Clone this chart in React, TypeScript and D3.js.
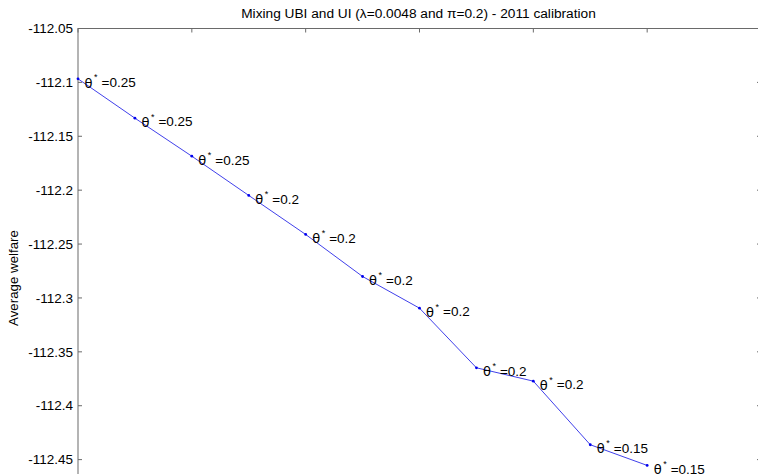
import React from "react";
import * as d3 from "d3";

const shares = [0, 0.05, 0.1, 0.15, 0.2, 0.25, 0.3, 0.35, 0.4, 0.45, 0.5];
const welfare = [
  -112.0967, -112.1332, -112.1685, -112.2049, -112.2411, -112.2801,
  -112.3095, -112.3648, -112.3772, -112.4362, -112.4554,
];
const thetaStar = ["0.25", "0.25", "0.25", "0.2", "0.2", "0.2", "0.2", "0.2", "0.2", "0.15", "0.15"];
const yTicks = [-112.05, -112.1, -112.15, -112.2, -112.25, -112.3, -112.35, -112.4, -112.45];
const xTicks = [0, 0.1, 0.2, 0.3, 0.4, 0.5, 0.6];

const W = 758;
const H = 474;
const FONT = "'Liberation Sans', Arial, Helvetica, sans-serif";

export default function App() {
  const left = 78;
  const right = 761;
  const top = 28.5;
  const bottom = 513.5;
  const x = d3.scaleLinear().domain([0, 0.6]).range([left, right]);
  const y = d3.scaleLinear().domain([-112.5, -112.05]).range([bottom, top]);
  const line = d3
    .line<number>()
    .x((_, i) => x(shares[i]))
    .y((d) => y(d));
  const axisColor = "#6a6a6a";
  const fmt = (v: number) => String(+v.toFixed(2));

  return (
    <svg
      width={W}
      height={H}
      style={{ position: "absolute", left: 0, top: 0, background: "#fff" }}
      fontFamily={FONT}
    >
      <rect x={0} y={0} width={W} height={H} fill="#fff" />
      <rect x={left} y={top} width={right - left} height={bottom - top} fill="none" stroke={axisColor} strokeWidth={1} />
      {xTicks.map((t) => (
        <g key={"xt" + t}>
          <line x1={x(t)} x2={x(t)} y1={top} y2={top + 4} stroke={axisColor} />
          <line x1={x(t)} x2={x(t)} y1={bottom} y2={bottom - 4} stroke={axisColor} />
        </g>
      ))}
      {yTicks.map((t) => (
        <g key={"yt" + t}>
          <line x1={left} x2={left + 4} y1={y(t)} y2={y(t)} stroke={axisColor} />
          <line x1={right} x2={right - 4} y1={y(t)} y2={y(t)} stroke={axisColor} />
          <text x={left - 5} y={y(t)} dy="0.35em" textAnchor="end" fontSize={13.5} fill="#000">
            {fmt(t)}
          </text>
        </g>
      ))}
      <path d={line(welfare) || ""} fill="none" stroke="#2a2ae8" strokeWidth={0.9} />
      {welfare.map((v, i) => (
        <circle key={"p" + i} cx={x(shares[i])} cy={y(v)} r={1.4} fill="#0000ee" />
      ))}
      {welfare.map((v, i) => {
        const px = x(shares[i]);
        const py = y(v);
        return (
          <g key={"l" + i} fill="#000">
            <text x={px + 6.5} y={py + 8.7} fontSize={13} fontFamily="'DejaVu Sans', sans-serif">
              θ
            </text>
            <text x={px + 16} y={py + 1.5} fontSize={9}>
              *
            </text>
            <text x={px + 23.5} y={py + 8.3} fontSize={13.5}>
              ={thetaStar[i]}
            </text>
          </g>
        );
      })}
      <text x={(left + right) / 2 - 1} y={18} textAnchor="middle" fontSize={13.7} fill="#000">
        Mixing UBI and UI (λ=0.0048 and π=0.2) - 2011 calibration
      </text>
      <text transform={`translate(18,278) rotate(-90)`} textAnchor="middle" fontSize={13.3} fill="#000">
        Average welfare
      </text>
    </svg>
  );
}
